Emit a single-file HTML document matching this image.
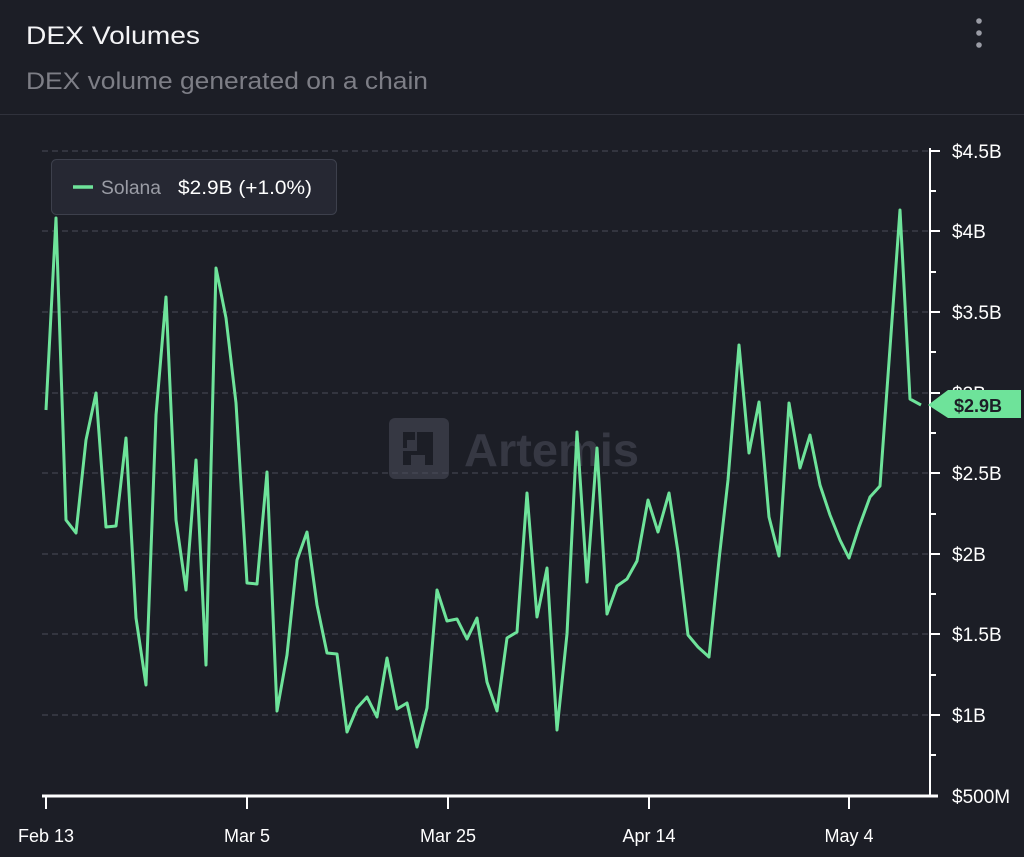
<!DOCTYPE html>
<html><head><meta charset="utf-8"><style>
html,body{margin:0;padding:0;background:#1c1e26;width:1024px;height:857px;overflow:hidden;font-family:"Liberation Sans",sans-serif}
</style></head><body>
<svg width="1024" height="857" viewBox="0 0 1024 857" xmlns="http://www.w3.org/2000/svg" style="position:absolute;left:0;top:0">
<rect width="1024" height="857" fill="#1c1e26"/>
<text x="26" y="44" fill="#f4f4f6" font-size="25" font-family="Liberation Sans, sans-serif" textLength="174" lengthAdjust="spacingAndGlyphs">DEX Volumes</text>
<text x="26" y="89" fill="#7d7e86" font-size="24" font-family="Liberation Sans, sans-serif" textLength="402" lengthAdjust="spacingAndGlyphs">DEX volume generated on a chain</text>
<circle cx="979" cy="21" r="2.8" fill="#9a9ca5"/><circle cx="979" cy="33" r="2.8" fill="#9a9ca5"/><circle cx="979" cy="45" r="2.8" fill="#9a9ca5"/>
<line x1="0" y1="114.5" x2="1024" y2="114.5" stroke="#30323c" stroke-width="1"/>
<g>
<rect x="389" y="418" width="60" height="61" rx="6" fill="#363843"/>
<path d="M403 432h12v8h-8v8h-4zM415 428h0zM417 432h16v33h-8v-10h-14v10h-8v-14h14z" fill="#1c1e26"/>
<text x="464" y="466" fill="#363843" font-size="46" font-weight="bold" font-family="Liberation Sans, sans-serif" textLength="175" lengthAdjust="spacingAndGlyphs">Artemis</text>
</g>
<g stroke="#4a4c58" stroke-width="1" stroke-dasharray="6,4">
<line x1="42" y1="151" x2="930" y2="151"/><line x1="42" y1="231" x2="930" y2="231"/><line x1="42" y1="312" x2="930" y2="312"/><line x1="42" y1="393" x2="930" y2="393"/><line x1="42" y1="473" x2="930" y2="473"/><line x1="42" y1="554" x2="930" y2="554"/><line x1="42" y1="634" x2="930" y2="634"/><line x1="42" y1="715" x2="930" y2="715"/>
</g>
<polyline fill="none" stroke="#6ee39a" stroke-width="3" stroke-linejoin="round" points="46,410 56,218 66,520 76,533 86,440 96,393 106,527 116,526 126,438 136,618 146,685 156,415 166,297 176,520 186,590 196,460 206,665 216,268 226,318 236,403 247,583 257,584 267,472 277,711 287,655 297,560 307,532 317,605 327,653 337,654 347,732 357,708 367,697 377,717 387,658 397,709 407,703 417,747 427,708 437,590 447,621 457,619 467,639 477,618 487,682 497,711 507,638 517,632 527,493 537,617 547,568 557,730 567,634 577,432 587,582 597,448 607,614 617,586 627,579 637,561 648,500 658,532 669,493 678,552 688,635 698,647 709,657 719,560 728,480 739,345 749,453 759,402 769,517 779,556 789,403 800,468 810,435 820,485 830,515 840,540 849,558 859,527 870,497 880,486 900,210 910,399 921,405"/>
<rect x="51.5" y="159.5" width="285" height="55" rx="5" fill="#262833" stroke="#3d404c"/>
<line x1="73" y1="187" x2="93" y2="187" stroke="#6ee39a" stroke-width="3.5"/>
<text x="101" y="194" fill="#9a9ca5" font-size="19" font-family="Liberation Sans, sans-serif" textLength="60" lengthAdjust="spacingAndGlyphs">Solana</text>
<text x="178" y="194" fill="#ffffff" font-size="19" font-family="Liberation Sans, sans-serif" textLength="134" lengthAdjust="spacingAndGlyphs">$2.9B (+1.0%)</text>
<line x1="930" y1="148" x2="930" y2="796" stroke="#ffffff" stroke-width="2"/>
<g stroke="#ffffff" stroke-width="2">
<line x1="930" y1="151" x2="940" y2="151"/><line x1="930" y1="191" x2="936" y2="191"/><line x1="930" y1="231" x2="940" y2="231"/><line x1="930" y1="272" x2="936" y2="272"/><line x1="930" y1="312" x2="940" y2="312"/><line x1="930" y1="352" x2="936" y2="352"/><line x1="930" y1="393" x2="940" y2="393"/><line x1="930" y1="433" x2="936" y2="433"/><line x1="930" y1="473" x2="940" y2="473"/><line x1="930" y1="514" x2="936" y2="514"/><line x1="930" y1="554" x2="940" y2="554"/><line x1="930" y1="594" x2="936" y2="594"/><line x1="930" y1="634" x2="940" y2="634"/><line x1="930" y1="675" x2="936" y2="675"/><line x1="930" y1="715" x2="940" y2="715"/><line x1="930" y1="755" x2="936" y2="755"/>
</g>
<line x1="42" y1="796" x2="938" y2="796" stroke="#ffffff" stroke-width="3"/>
<g stroke="#ffffff" stroke-width="2">
<line x1="46" y1="796" x2="46" y2="809"/><line x1="247" y1="796" x2="247" y2="809"/><line x1="448" y1="796" x2="448" y2="809"/><line x1="649" y1="796" x2="649" y2="809"/><line x1="849" y1="796" x2="849" y2="809"/>
</g>
<g fill="#ffffff" font-size="19" font-family="Liberation Sans, sans-serif">
<text x="952" y="158">$4.5B</text><text x="952" y="238">$4B</text><text x="952" y="319">$3.5B</text><text x="952" y="400">$3B</text><text x="952" y="480">$2.5B</text><text x="952" y="561">$2B</text><text x="952" y="641">$1.5B</text><text x="952" y="722">$1B</text><text x="952" y="803">$500M</text>
</g>
<g fill="#ffffff" font-size="18" font-family="Liberation Sans, sans-serif" text-anchor="middle">
<text x="46" y="842">Feb 13</text><text x="247" y="842">Mar 5</text><text x="448" y="842">Mar 25</text><text x="649" y="842">Apr 14</text><text x="849" y="842">May 4</text>
</g>
<path d="M928 405 L948 390 H1021 V418 H948 Z" fill="#6ee39a"/>
<text x="954" y="412" fill="#1c1e26" font-size="18" font-weight="bold" font-family="Liberation Sans, sans-serif">$2.9B</text>
</svg>
</body></html>
